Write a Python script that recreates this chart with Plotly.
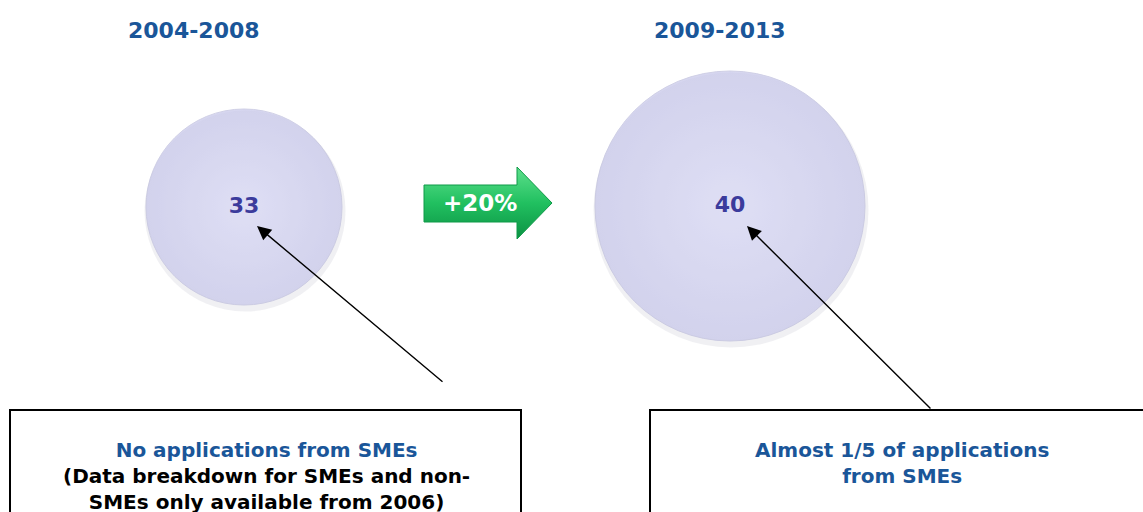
import plotly.graph_objects as go

# ---- data ----
periods = ["2004-2008", "2009-2013"]
values = [33, 40]
growth_label = "+20%"
note_titles = ["No applications from SMEs", "Almost 1/5 of applications<br>from SMEs"]
note_details = ["(Data breakdown for SMEs and non-<br>SMEs only available from 2006)", ""]

# ---- layout constants (pixel space) ----
W, H = 1143, 512
cx = [244, 730]
cy = [207, 206]
diam = [196, 270]
title_x = [194, 720]
title_y = 30
box = [(10, 410, 521, 530), (650, 410, 1160, 530)]
arrow_tail = [(444, 383), (932, 410)]
arrow_tip = [(257, 226), (747, 226)]
BLUE = "#1a5699"
NUM = "#3b3b9c"
FONT = "DejaVu Sans, Verdana, sans-serif"

fig = go.Figure()

# shadows
fig.add_trace(go.Scatter(
    x=[c + 1 for c in cx], y=[c + 4 for c in cy], mode="markers",
    marker=dict(size=[d + 5 for d in diam], color="rgba(120,120,150,0.16)", line=dict(width=0)),
    hoverinfo="skip", showlegend=False))

# bubbles
fig.add_trace(go.Scatter(
    x=cx, y=cy, mode="markers+text",
    marker=dict(size=diam, color="#c6c6ea",
                gradient=dict(type="radial", color="#d8d8f6"),
                line=dict(width=1, color="#bcbcdc")),
    text=[f"<b>{v}</b>" for v in values], textposition="middle center",
    textfont=dict(family=FONT, size=22, color=NUM),
    hoverinfo="skip", showlegend=False))

# green growth arrow
ax_ = [424, 517, 517, 552, 517, 517, 424, 424]
ay_ = [185, 185, 167, 203, 239, 222, 222, 185]
fig.add_trace(go.Scatter(
    x=ax_, y=ay_, mode="lines", fill="toself",
    line=dict(width=1, color="#0f9a48"),
    fillgradient=dict(type="vertical", start=167, stop=239,
                      colorscale=[[0, "#5ee08c"], [0.5, "#21c060"], [1, "#0b9243"]]),
    hoverinfo="skip", showlegend=False))

annotations = []
annotations.append(dict(x=480, y=203, xref="x", yref="y", text=f"<b>{growth_label}</b>",
                        showarrow=False, font=dict(family=FONT, size=23, color="white")))

for i, p in enumerate(periods):
    annotations.append(dict(x=title_x[i], y=title_y, xref="x", yref="y", text=f"<b>{p}</b>",
                            showarrow=False, font=dict(family=FONT, size=22, color=BLUE)))
    # pointer arrow
    annotations.append(dict(x=arrow_tip[i][0], y=arrow_tip[i][1], ax=arrow_tail[i][0], ay=arrow_tail[i][1],
                            xref="x", yref="y", axref="x", ayref="y", text="", showarrow=True,
                            arrowhead=2, arrowsize=2, arrowwidth=1.4, arrowcolor="black"))

# note boxes
shapes = []
for (x0, y0, x1, y1) in box:
    shapes.append(dict(type="rect", xref="x", yref="y", x0=x0, y0=y0, x1=x1, y1=y1,
                       line=dict(color="black", width=2), fillcolor="white", layer="below"))

box_text_x = [266, 902]
for i in range(2):
    txt = f"<span style='color:{BLUE}'><b>{note_titles[i]}</b></span>"
    if note_details[i]:
        txt += f"<br><b>{note_details[i]}</b>"
    annotations.append(dict(x=box_text_x[i], y=436, xref="x", yref="y", text=txt,
                            showarrow=False, yanchor="top", align="center",
                            font=dict(family=FONT, size=20, color="black")))

fig.update_layout(
    width=W, height=H, margin=dict(l=0, r=0, t=0, b=0),
    paper_bgcolor="white", plot_bgcolor="white",
    xaxis=dict(range=[0, W], visible=False, fixedrange=True),
    yaxis=dict(range=[H, 0], visible=False, fixedrange=True),
    shapes=shapes, annotations=annotations,
)

fig.write_html("out.html", config={"displayModeBar": False},
               post_script="document.body.style.margin='0';document.body.style.padding='0';document.body.style.overflow='hidden';")
